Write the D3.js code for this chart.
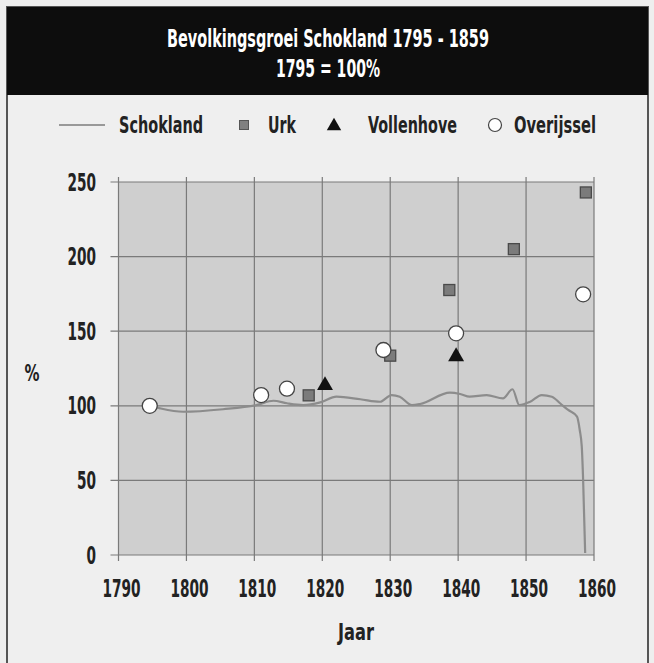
<!DOCTYPE html>
<html>
<head>
<meta charset="utf-8">
<script src="https://cdn.jsdelivr.net/npm/d3@7"></script>
<style>
  body { margin: 0; background: #eeeeee; }
  svg text { font-family: "DejaVu Sans Condensed", "DejaVu Sans", sans-serif; font-stretch: condensed; font-weight: bold; }
</style>
</head>
<body>
<div id="chart"></div>
<script>
// Bevolkingsgroei Schokland 1795 - 1859 (1795 = 100%)
var X_TICKS = [1790, 1800, 1810, 1820, 1830, 1840, 1850, 1860];
var Y_TICKS = [0, 50, 100, 150, 200, 250];

var SCHOKLAND_YEARS = [1794.6, 1796.1, 1799.5, 1805.4, 1810.3, 1812.8, 1814.8, 1817.2, 1819.7, 1822.1,
                       1825.6, 1828.5, 1830.2, 1831.4, 1833.2, 1834.4, 1838.8, 1840.3, 1841.7, 1844.2,
                       1846.6, 1848.0, 1849.0, 1850.6, 1852.3, 1853.8, 1855.0, 1856.2, 1857.5, 1857.9,
                       1858.2, 1858.4, 1858.7];
var SCHOKLAND_VALUES = [100, 98.3, 96.0, 97.7, 100.5, 103.4, 101.7, 100.5, 102.3, 106.1,
                        104.4, 102.7, 107.2, 106.1, 100.5, 101.2, 108.8, 107.9, 106.1, 107.2,
                        105.0, 111.1, 100.5, 102.7, 107.2, 106.1, 101.7, 97.2, 92.7, 83.8,
                        72.6, 50.3, 1.3];

var URK_YEARS = [1818, 1830, 1838.7, 1848.2, 1858.8];
var URK_VALUES = [107, 133.6, 177.6, 205, 243];

var VOLLENHOVE_YEARS = [1820.4, 1839.7];
var VOLLENHOVE_VALUES = [113.6, 133];

var OVERIJSSEL_YEARS = [1794.6, 1811, 1814.8, 1829, 1839.7, 1858.4];
var OVERIJSSEL_VALUES = [100, 107.2, 111.5, 137.4, 148.6, 174.7];

function Chart(selector) {
    var w = 654,
        h = 663,
        left = 118.5,
        right = 594,
        top = 182,
        bottom = 555;

    var x = d3.scaleLinear().domain([1790, 1860]).range([left, right]),
        y = d3.scaleLinear().domain([0, 250]).range([bottom, top]);

    function zip(xs, ys) {
        return xs.map(function(d, i) { return { year: d, value: ys[i] }; });
    }

    // squeeze text down to the narrow lettering of the original
    function fit(sel, width) {
        sel.each(function() {
            if (this.getComputedTextLength() > width) {
                d3.select(this)
                    .attr('textLength', width)
                    .attr('lengthAdjust', 'spacingAndGlyphs');
            }
        });
    }

    function drawFrame(svg) {
        svg.append('rect')
            .attr('x', 7).attr('y', 7)
            .attr('width', 641).attr('height', h)
            .attr('fill', '#efefef')
            .attr('stroke', '#555')
            .attr('stroke-width', 2);

        svg.append('rect')
            .attr('x', 7).attr('y', 7)
            .attr('width', 641).attr('height', 88)
            .attr('fill', '#0d0d0d');

        svg.append('text')
            .text('Bevolkingsgroei Schokland 1795 - 1859')
            .attr('x', 328).attr('y', 47)
            .attr('text-anchor', 'middle')
            .attr('font-size', 24)
            .attr('fill', '#fff')
            .call(fit, 322);

        svg.append('text')
            .text('1795 = 100%')
            .attr('x', 328).attr('y', 77)
            .attr('text-anchor', 'middle')
            .attr('font-size', 24)
            .attr('fill', '#fff')
            .call(fit, 104);
    }

    function drawLegend(svg) {
        var g = svg.append('g').attr('class', 'legend'),
            ly = 125;

        g.append('line')
            .attr('x1', 59).attr('x2', 105)
            .attr('y1', ly).attr('y2', ly)
            .attr('stroke', '#999').attr('stroke-width', 2);

        g.append('rect')
            .attr('x', 239.5).attr('y', ly - 4.5)
            .attr('width', 9).attr('height', 9)
            .attr('fill', '#808080').attr('stroke', '#555');

        g.append('path')
            .attr('d', d3.symbol(d3.symbolTriangle, 90)())
            .attr('transform', 'translate(334,' + (ly + 1) + ')')
            .attr('fill', '#111');

        g.append('circle')
            .attr('cx', 495).attr('cy', ly).attr('r', 6.5)
            .attr('fill', '#fff').attr('stroke', '#444').attr('stroke-width', 1.2);

        var labels = [['Schokland', 119, 84], ['Urk', 268, 28], ['Vollenhove', 368, 89], ['Overijssel', 514, 82]];
        g.selectAll('text.lab')
            .data(labels)
            .enter()
            .append('text')
            .attr('class', 'lab')
            .text(function(d) { return d[0]; })
            .attr('x', function(d) { return d[1]; })
            .attr('y', ly + 8)
            .attr('font-size', 23)
            .attr('fill', '#222')
            .each(function(d) { fit(d3.select(this), d[2]); });
    }

    function drawGrid(svg) {
        svg.append('rect')
            .attr('x', left).attr('y', top)
            .attr('width', right - left).attr('height', bottom - top)
            .attr('fill', '#cfcfcf');

        svg.selectAll('line.hgrid')
            .data(Y_TICKS)
            .enter()
            .append('line')
            .attr('class', 'hgrid')
            .attr('x1', left - 8).attr('x2', right)
            .attr('y1', function(d) { return y(d); })
            .attr('y2', function(d) { return y(d); })
            .attr('stroke', '#7a7a7a').attr('stroke-width', 1.2);

        svg.selectAll('line.vgrid')
            .data(X_TICKS)
            .enter()
            .append('line')
            .attr('class', 'vgrid')
            .attr('x1', function(d) { return x(d); })
            .attr('x2', function(d) { return x(d); })
            .attr('y1', top - 5).attr('y2', bottom + 6)
            .attr('stroke', '#7a7a7a').attr('stroke-width', 1.2);

        svg.selectAll('text.ytick')
            .data(Y_TICKS)
            .enter()
            .append('text')
            .attr('class', 'ytick')
            .text(function(d) { return d; })
            .attr('x', 96)
            .attr('y', function(d) { return y(d) + 8.5; })
            .attr('text-anchor', 'end')
            .attr('font-size', 24)
            .attr('fill', '#222')
            .each(function(d) { fit(d3.select(this), String(d).length * 9.5); });

        svg.selectAll('text.xtick')
            .data(X_TICKS)
            .enter()
            .append('text')
            .attr('class', 'xtick')
            .text(function(d) { return d; })
            .attr('x', function(d) { return x(d) + 3; })
            .attr('y', 597)
            .attr('text-anchor', 'middle')
            .attr('font-size', 24)
            .attr('fill', '#222')
            .call(fit, 38);

        svg.append('text')
            .text('%')
            .attr('x', 32).attr('y', 381)
            .attr('text-anchor', 'middle')
            .attr('font-size', 23)
            .attr('fill', '#222')
            .call(fit, 15);

        svg.append('text')
            .text('Jaar')
            .attr('x', 356).attr('y', 640)
            .attr('text-anchor', 'middle')
            .attr('font-size', 23)
            .attr('fill', '#222')
            .call(fit, 36);
    }

    function drawSeries(svg) {
        var line = d3.line()
            .x(function(d) { return x(d.year); })
            .y(function(d) { return y(d.value); })
            .curve(d3.curveMonotoneX);

        svg.append('path')
            .datum(zip(SCHOKLAND_YEARS, SCHOKLAND_VALUES))
            .attr('d', line)
            .attr('fill', 'none')
            .attr('stroke', '#8c8c8c')
            .attr('stroke-width', 2.2);

        svg.selectAll('rect.urk')
            .data(zip(URK_YEARS, URK_VALUES))
            .enter()
            .append('rect')
            .attr('class', 'urk')
            .attr('x', function(d) { return x(d.year) - 5.5; })
            .attr('y', function(d) { return y(d.value) - 5.5; })
            .attr('width', 11).attr('height', 11)
            .attr('fill', '#7b7b7b').attr('stroke', '#4a4a4a').attr('stroke-width', 1.3);

        svg.selectAll('path.vollenhove')
            .data(zip(VOLLENHOVE_YEARS, VOLLENHOVE_VALUES))
            .enter()
            .append('path')
            .attr('class', 'vollenhove')
            .attr('d', d3.symbol(d3.symbolTriangle, 110)())
            .attr('transform', function(d) { return 'translate(' + x(d.year) + ',' + y(d.value) + ')'; })
            .attr('fill', '#111');

        svg.selectAll('circle.overijssel')
            .data(zip(OVERIJSSEL_YEARS, OVERIJSSEL_VALUES))
            .enter()
            .append('circle')
            .attr('class', 'overijssel')
            .attr('cx', function(d) { return x(d.year); })
            .attr('cy', function(d) { return y(d.value); })
            .attr('r', 7.5)
            .attr('fill', '#fff').attr('stroke', '#444').attr('stroke-width', 1.3);
    }

    this.render = function() {
        var svg = d3.select(selector)
            .append('svg')
            .attr('width', w)
            .attr('height', h);
        drawFrame(svg);
        drawLegend(svg);
        drawGrid(svg);
        drawSeries(svg);
    };
}

new Chart('#chart').render();
</script>
</body>
</html>
